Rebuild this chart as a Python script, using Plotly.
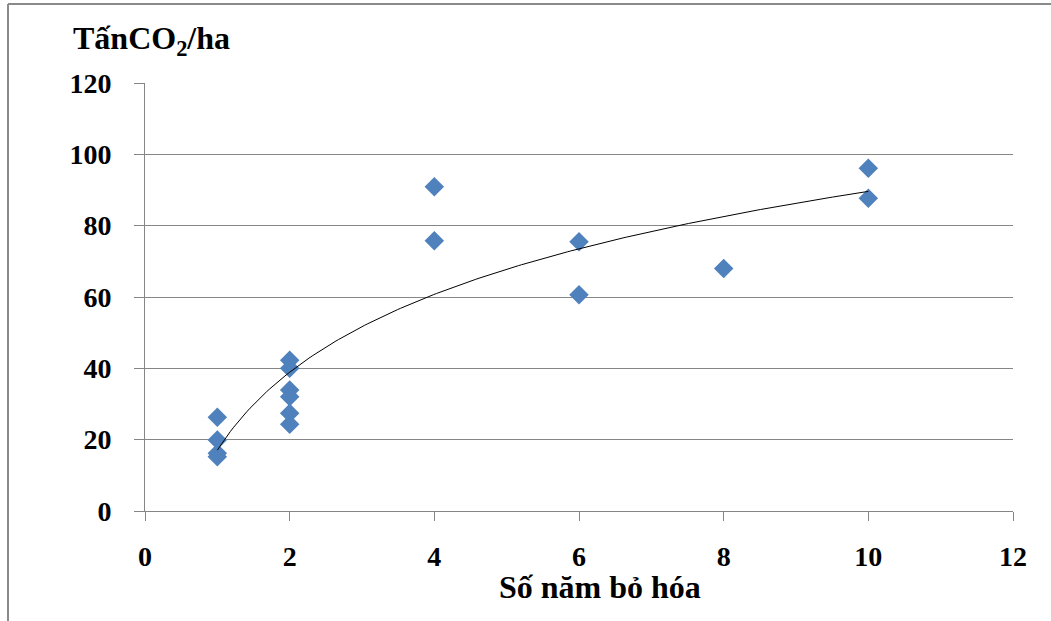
import numpy as np
import plotly.graph_objects as go

# Data
years = [1, 1, 1, 1, 2, 2, 2, 2, 2, 2, 4, 4, 6, 6, 8, 10, 10]
co2 = [26.3, 19.9, 16.2, 15.2, 42.3, 40.0, 33.9, 32.0, 27.4, 24.3,
       90.9, 75.8, 75.5, 60.6, 68.0, 96.1, 87.7]

x_ticks = [0, 2, 4, 6, 8, 10, 12]
y_ticks = [0, 20, 40, 60, 80, 100, 120]

# Logarithmic trendline fitted to the data
b, a = np.polyfit(np.log(years), co2, 1)
xt = np.linspace(1, 10, 200)
yt = a + b * np.log(xt)

FONT = "Liberation Serif"
GRAY = "#868686"

fig = go.Figure()
fig.add_trace(go.Scatter(x=years, y=co2, mode="markers",
                         marker=dict(symbol="diamond", size=15, color="#4F81BD",
                                     line=dict(width=0)),
                         showlegend=False))
fig.add_trace(go.Scatter(x=xt, y=yt, mode="lines",
                         line=dict(color="black", width=1), showlegend=False))

fig.update_layout(
    width=1051, height=621,
    margin=dict(l=145, r=38, t=83, b=110),
    paper_bgcolor="white", plot_bgcolor="white",
    font=dict(family=FONT, size=28, color="black"),
    xaxis=dict(range=[0, 12], tickvals=x_ticks, ticktext=[f"<b>{v}</b>" for v in x_ticks],
               showgrid=False, zeroline=False, showline=True, linecolor=GRAY, linewidth=1,
               ticks="outside", ticklen=9, tickcolor=GRAY, tickwidth=1,
               ticklabelstandoff=11, tickfont=dict(family=FONT, size=28)),
    yaxis=dict(range=[0, 120], tickvals=y_ticks, ticktext=[f"<b>{v}</b>" for v in y_ticks],
               showgrid=True, gridcolor=GRAY, gridwidth=1, zeroline=False,
               showline=True, linecolor=GRAY, linewidth=1,
               ticks="outside", ticklen=10, tickcolor=GRAY, tickwidth=1,
               ticklabelstandoff=17, tickfont=dict(family=FONT, size=28)),
    annotations=[
        dict(text="<b>TấnCO<sub>2</sub>/ha</b>", xref="paper", yref="paper",
             x=(71 - 145) / 868, y=(511 - 40) / 428, xanchor="left", yanchor="middle",
             showarrow=False, font=dict(family=FONT, size=32)),
        dict(text="<b>Số năm bỏ hóa</b>", xref="paper", yref="paper",
             x=(600 - 145) / 868, y=-(587 - 511) / 428, xanchor="center", yanchor="middle",
             showarrow=False, font=dict(family=FONT, size=32)),
    ],
    shapes=[
        dict(type="line", xref="paper", yref="paper",
             x0=(8 - 145) / 868, x1=(1051 - 145) / 868,
             y0=(511 - 4) / 428, y1=(511 - 4) / 428,
             line=dict(color="#8a8a8a", width=2)),
        dict(type="line", xref="paper", yref="paper",
             x0=(8 - 145) / 868, x1=(8 - 145) / 868,
             y0=(511 - 4) / 428, y1=(511 - 621) / 428,
             line=dict(color="#8a8a8a", width=2)),
    ],
)

fig.write_html("out.html")
